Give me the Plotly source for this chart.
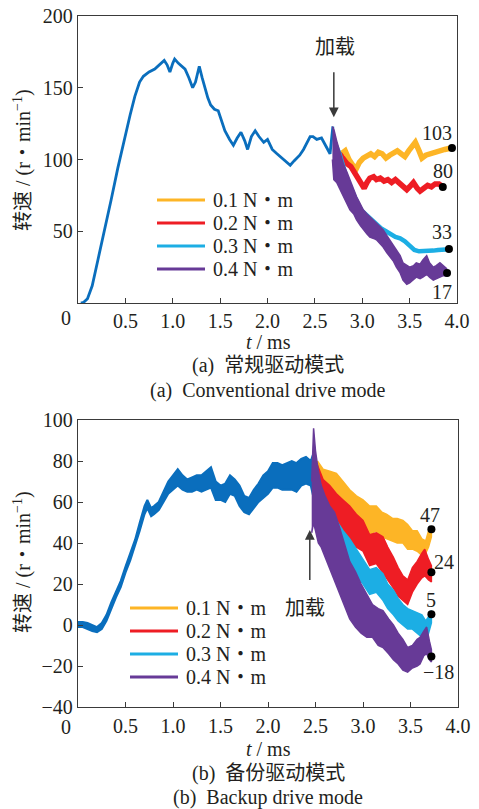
import plotly.graph_objects as go

# ---------------- shared ----------------
series_names = ["0.1 N・m", "0.2 N・m", "0.3 N・m", "0.4 N・m"]
series_colors = ["#FDB526", "#EE1D24", "#1CAEE4", "#673A97"]
base_color = "#0A6EBD"
x_tick_vals = [0, 0.5, 1.0, 1.5, 2.0, 2.5, 3.0, 3.5, 4.0]
x_tick_text = ["0", "0.5", "1.0", "1.5", "2.0", "2.5", "3.0", "3.5", "4.0"]

# ---------------- (a) conventional drive mode ----------------
a_y_ticks = [50, 100, 150, 200]
a_blue_t = [0.03, 0.06, 0.10, 0.15, 0.21, 0.28, 0.35, 0.42, 0.49, 0.55, 0.60, 0.65, 0.69, 0.75,
            0.81, 0.86, 0.91, 0.94, 0.97, 1.00, 1.02, 1.06, 1.10, 1.13, 1.17, 1.21, 1.24, 1.28,
            1.31, 1.34, 1.37, 1.40, 1.44, 1.48, 1.52, 1.55, 1.60, 1.64, 1.68, 1.72, 1.76, 1.79,
            1.83, 1.87, 1.91, 1.96, 2.00, 2.05, 2.10, 2.15, 2.20, 2.24, 2.28, 2.34, 2.38, 2.41,
            2.45, 2.48, 2.52, 2.57, 2.62, 2.66, 2.69]
a_blue_v = [0, 0.5, 3, 12, 30, 50, 72, 94, 115, 131, 144, 154, 158, 161,
            163, 166, 169, 166, 161, 167, 170, 167, 165, 163, 157, 150, 154, 165,
            157, 150, 143, 138, 135, 134, 126, 120, 114, 110, 115, 119, 113, 107,
            116, 120, 116, 112, 114, 107, 104, 101, 98, 96, 99, 103, 107, 111,
            116, 116, 114, 115, 109, 104, 123]

a_s1_t = [2.78, 2.82, 2.86, 2.90, 2.94, 2.97, 3.01, 3.05, 3.09, 3.13, 3.17, 3.21, 3.25, 3.29,
          3.33, 3.37, 3.41, 3.45, 3.49, 3.53, 3.56, 3.60, 3.63, 3.67, 3.71, 3.75, 3.79, 3.83,
          3.87, 3.94]
a_s1_v = [104, 106, 100, 96, 94, 98, 101, 103, 104, 102, 105, 104, 101, 103,
          104, 106, 104, 102, 106, 109, 112, 106, 101, 103, 104, 105, 105, 107,
          107, 108]

a_s2_t = [2.76, 2.80, 2.84, 2.88, 2.92, 2.96, 3.00, 3.02, 3.05, 3.08, 3.12, 3.15, 3.19, 3.23,
          3.27, 3.31, 3.35, 3.39, 3.43, 3.47, 3.50, 3.54, 3.58, 3.61, 3.65, 3.69, 3.73, 3.77,
          3.81, 3.85]
a_s2_v = [104, 100, 97, 95, 91, 86, 82, 80, 84, 87, 88, 86, 87, 85,
          86, 84, 86, 84, 82, 79, 81, 84, 80, 78, 80, 82, 81, 83,
          83, 81]

a_s3_t = [2.72, 2.76, 2.80, 2.84, 2.88, 2.92, 2.96, 3.00, 3.05, 3.10, 3.15, 3.20, 3.25, 3.30,
          3.35, 3.40, 3.45, 3.50, 3.55, 3.60, 3.65, 3.70, 3.75, 3.80, 3.85, 3.92]
a_s3_v = [110, 104, 95, 86, 80, 73, 68, 64, 61, 57, 54, 52, 50, 48,
          46, 45, 43, 40, 37, 36, 36, 36, 36.5, 37, 37, 37.5]

a_s4_t = [2.685, 2.70, 2.73, 2.76, 2.80, 2.84, 2.87, 2.91, 2.94, 2.98, 3.01, 3.05, 3.08, 3.12,
          3.15, 3.19, 3.22, 3.26, 3.29, 3.33, 3.36, 3.40, 3.43, 3.47, 3.50, 3.54, 3.57, 3.61,
          3.64, 3.68, 3.71, 3.75, 3.78, 3.82, 3.85, 3.89]
a_s4_lo = [100, 86, 84, 80, 74, 69, 65, 62, 58, 54, 51, 48, 46, 45,
           44, 41, 39, 35, 32, 29, 25, 21, 16, 13, 14, 16, 18, 17,
           18, 20, 18, 16, 17, 18, 19, 19]
a_s4_hi = [123, 121, 113, 106, 97, 91, 86, 80, 74, 69, 65, 62, 60, 57,
           55, 53, 51, 47, 44, 40, 37, 33, 28, 26, 25, 26, 28, 27,
           30, 33, 28, 25, 26, 28, 26, 24]

a_end_t = [3.947, 3.85, 3.915, 3.895]
a_end_v = [108, 80.8, 37.6, 20.9]
a_end_lbl = ["103", "80", "33", "17"]

# ---------------- (b) backup drive mode ----------------
b_y_ticks = [-40, -20, 0, 20, 40, 60, 80, 100]
b_y_text = ["−40", "−20", "0", "20", "40", "60", "80", "100"]
b_blue_t = [0.00, 0.05, 0.10, 0.15, 0.20, 0.25, 0.30, 0.35, 0.40, 0.45, 0.50, 0.55, 0.60, 0.65,
            0.70, 0.73, 0.77, 0.80, 0.85, 0.90, 0.95, 1.00, 1.05, 1.10, 1.15, 1.20, 1.25, 1.30,
            1.35, 1.40, 1.45, 1.50, 1.55, 1.60, 1.65, 1.70, 1.75, 1.80, 1.85, 1.90, 1.95, 2.00,
            2.05, 2.10, 2.15, 2.20, 2.25, 2.30, 2.35, 2.40, 2.45, 2.48]
b_blue_lo = [-1, -1, -2, -3, -3.5, -2, 2, 8, 13.5, 18.5, 25.5, 31.5, 38.5, 46,
             54, 57, 53, 54, 56, 60, 64, 66, 68, 66, 65, 65, 66, 65,
             66, 67, 61, 61, 60, 64, 63, 58, 55, 54, 57, 60, 62, 64,
             67, 67, 66, 66, 66, 65, 68, 69, 68, 62]
b_blue_hi = [1.5, 1.5, 1, 0, -1, 1, 5, 11, 16.5, 21.5, 28.5, 34.5, 41.5, 50,
             58, 61, 57, 58, 60, 65, 70, 73, 76, 73, 71, 72, 73, 73,
             75, 77, 70, 68, 69, 73, 71, 68, 63, 62, 66, 69, 73, 75,
             79, 79, 78, 79, 80, 79, 81, 82, 80, 84]

b_s1_t = [2.52, 2.58, 2.65, 2.72, 2.79, 2.86, 2.93, 3.00, 3.07, 3.14, 3.20, 3.25, 3.31, 3.36,
          3.42, 3.47, 3.52, 3.57, 3.62, 3.66, 3.69, 3.72]
b_s1_lo = [68, 67, 64, 62, 57, 53, 50, 48, 44, 46, 43, 42, 41, 40,
           40, 37, 37, 36, 34, 35, 38, 43]
b_s1_hi = [80, 76, 75, 74, 70, 66, 63, 61, 58, 58, 55, 54, 52, 52,
           51, 49, 46, 46, 42, 41, 46, 48]

b_s2_t = [2.52, 2.58, 2.65, 2.72, 2.79, 2.86, 2.93, 3.00, 3.07, 3.14, 3.21, 3.26, 3.32, 3.37,
          3.42, 3.47, 3.52, 3.57, 3.62, 3.65, 3.69, 3.72]
b_s2_lo = [62, 58, 55, 51, 46, 41, 38, 36, 29, 30, 25, 22, 18, 14,
           12, 10, 16, 20, 23, 24, 22, 21]
b_s2_hi = [78, 71, 68, 64, 61, 58, 54, 51, 44, 45, 43, 38, 33, 28,
           24, 22, 28, 31, 35, 37, 32, 29]

b_s3_t = [2.52, 2.58, 2.65, 2.72, 2.79, 2.86, 2.93, 3.00, 3.07, 3.14, 3.21, 3.26, 3.32, 3.37,
          3.42, 3.47, 3.52, 3.57, 3.62, 3.66, 3.69, 3.72]
b_s3_lo = [60, 51, 45, 40, 33, 28, 24, 20, 15, 16, 12, 8, 5, 2,
           0, -2, -2, -4, -6, -8, -4, 1]
b_s3_hi = [75, 63, 57, 51, 46, 42, 37, 32, 27, 28, 25, 20, 17, 13,
           10, 8, 7, 6, 5, 2, 4, 7]

b_s4_t = [2.46, 2.48, 2.50, 2.53, 2.56, 2.60, 2.65, 2.70, 2.75, 2.80, 2.86, 2.92, 2.98, 3.04,
          3.10, 3.16, 3.21, 3.27, 3.32, 3.37, 3.42, 3.47, 3.52, 3.57, 3.60, 3.64, 3.67, 3.70,
          3.72]
b_s4_lo = [45, 50, 46, 40, 38, 33, 27, 22, 16, 10, 3, -1, -4, -6,
           -6, -10, -11, -14, -17, -19, -22, -23, -21, -20, -19, -15, -14, -17,
           -18]
b_s4_hi = [70, 96, 85, 75, 68, 63, 58, 55, 48, 40, 31, 26, 20, 15,
           10, 8, 7, 3, 0, -4, -7, -11, -10, -7, -6, -3, -1, -8,
           -12]

b_end_t = [3.72, 3.72, 3.72, 3.72]
b_end_v = [46.7, 25.7, 5.2, -15.4]
b_end_lbl = ["47", "24", "5", "−18"]

# ---------------- figure ----------------
W, H = 479, 809
SERIF = "Liberation Serif, Noto Sans CJK SC"
TXT = "#231F20"
AX = "#3a3a3a"

fig = go.Figure()


def add_line(t, v, color, width, xa, ya, name):
    fig.add_trace(go.Scatter(x=t, y=v, mode="lines", name=name, showlegend=False,
                             line=dict(color=color, width=width), xaxis=xa, yaxis=ya,
                             hoverinfo="skip"))


def add_band(t, lo, hi, color, xa, ya, name, width=1.5):
    xs = list(t) + list(t)[::-1]
    ys = list(hi) + list(lo)[::-1]
    fig.add_trace(go.Scatter(x=xs, y=ys, mode="lines", fill="toself", fillcolor=color,
                             name=name, showlegend=False,
                             line=dict(color=color, width=width), xaxis=xa, yaxis=ya,
                             hoverinfo="skip"))


# (a)
add_line(a_blue_t, a_blue_v, base_color, 2.8, "x", "y", "speed")
add_line(a_s1_t, a_s1_v, series_colors[0], 5.5, "x", "y", series_names[0])
add_line(a_s2_t, a_s2_v, series_colors[1], 5.5, "x", "y", series_names[1])
add_line(a_s3_t, a_s3_v, series_colors[2], 4.5, "x", "y", series_names[2])
add_band(a_s4_t, a_s4_lo, a_s4_hi, series_colors[3], "x", "y", series_names[3])
fig.add_trace(go.Scatter(x=a_end_t, y=a_end_v, mode="markers", showlegend=False,
                         marker=dict(color="black", size=8), xaxis="x", yaxis="y",
                         hoverinfo="skip"))

# (b)
add_band(b_blue_t, b_blue_lo, b_blue_hi, base_color, "x2", "y2", "speed", 2.0)
add_band(b_s1_t, b_s1_lo, b_s1_hi, series_colors[0], "x2", "y2", series_names[0])
add_band(b_s2_t, b_s2_lo, b_s2_hi, series_colors[1], "x2", "y2", series_names[1])
add_band(b_s3_t, b_s3_lo, b_s3_hi, series_colors[2], "x2", "y2", series_names[2])
add_band(b_s4_t, b_s4_lo, b_s4_hi, series_colors[3], "x2", "y2", series_names[3])
fig.add_trace(go.Scatter(x=b_end_t, y=b_end_v, mode="markers", showlegend=False,
                         marker=dict(color="black", size=8), xaxis="x2", yaxis="y2",
                         hoverinfo="skip"))

axis_common = dict(showline=True, mirror=True, linecolor=AX, linewidth=1.3,
                   ticks="inside", ticklen=5, tickwidth=1.2, tickcolor=AX,
                   showgrid=False, zeroline=False, automargin=False,
                   tickfont=dict(family=SERIF, size=20, color=TXT))

fig.update_layout(
    width=W, height=H, margin=dict(l=0, r=0, t=0, b=0),
    paper_bgcolor="white", plot_bgcolor="white", showlegend=False,
    xaxis=dict(domain=[78 / W, 457 / W], range=[0, 4], anchor="y",
               tickvals=x_tick_vals[1:], ticktext=x_tick_text[1:], **axis_common),
    yaxis=dict(domain=[1 - 303 / H, 1 - 16 / H], range=[0, 200], anchor="x",
               tickvals=a_y_ticks, ticktext=[str(v) for v in a_y_ticks], **axis_common),
    xaxis2=dict(domain=[78 / W, 458 / W], range=[0, 4], anchor="y2",
                tickvals=x_tick_vals[1:], ticktext=x_tick_text[1:], ticklabelstandoff=1,
                **axis_common),
    yaxis2=dict(domain=[1 - 707 / H, 1 - 420 / H], range=[-40, 100], anchor="x2",
                tickvals=b_y_ticks, ticktext=b_y_text, **axis_common),
)

ann = []
font20 = dict(family=SERIF, size=20, color=TXT)

# corner "0" x tick label
ann.append(dict(x=x_tick_vals[0], y=0, xref="x", yref="y", text=x_tick_text[0], showarrow=False,
                xanchor="right", yanchor="middle", xshift=-5, yshift=-15, font=font20))
ann.append(dict(x=x_tick_vals[0], y=-40, xref="x2", yref="y2", text=x_tick_text[0], showarrow=False,
                xanchor="right", yanchor="middle", xshift=-5, yshift=-20, font=font20))

# axis titles & captions
ytitle = "转速 / (r・min<sup>−1</sup>)"
ann.append(dict(x=22 / W, y=1 - 160 / H, xref="paper", yref="paper", text=ytitle, textangle=-90,
                xanchor="center", yanchor="middle", showarrow=False, font=font20))
ann.append(dict(x=22 / W, y=1 - 562 / H, xref="paper", yref="paper", text=ytitle, textangle=-90,
                xanchor="center", yanchor="middle", showarrow=False, font=font20))
for ytxt, txt in [(342, "<i>t</i> / ms"), (365, "(a)  常规驱动模式"), (390, "(a)  Conventional drive mode"),
                  (749, "<i>t</i> / ms"), (773, "(b)  备份驱动模式"), (797, "(b)  Backup drive mode")]:
    ann.append(dict(x=268 / W, y=1 - ytxt / H, xref="paper", yref="paper", text=txt,
                    xanchor="center", showarrow=False, font=font20, yanchor="middle"))

# loading arrows
ann.append(dict(x=2.70, y=129.5, xref="x", yref="y", ax=0, ay=-55, text=" ", showarrow=True,
                arrowhead=2, arrowsize=1.3, arrowwidth=1.5, arrowcolor=AX))
ann.append(dict(x=2.71, y=178.4, xref="x", yref="y", text="加载", showarrow=False, font=font20))
ann.append(dict(x=2.44, y=46.3, xref="x2", yref="y2", ax=0, ay=60, text=" ", showarrow=True,
                arrowhead=2, arrowsize=1.3, arrowwidth=1.5, arrowcolor=AX))
ann.append(dict(x=2.39, y=8.3, xref="x2", yref="y2", text="加载", showarrow=False, font=font20))

# end value labels
a_off = [(-15, 15), (0, 16), (-7, 17), (-5, -19)]
b_off = [(-1, 14), (13, 10), (0, 14), (7, -15)]
for t, v, s, (dx, dy) in zip(a_end_t, a_end_v, a_end_lbl, a_off):
    ann.append(dict(x=t, y=v, xref="x", yref="y", text=s, showarrow=False, font=font20,
                    xshift=dx, yshift=dy))
for t, v, s, (dx, dy) in zip(b_end_t, b_end_v, b_end_lbl, b_off):
    ann.append(dict(x=t, y=v, xref="x2", yref="y2", text=s, showarrow=False, font=font20,
                    xshift=dx, yshift=dy))

# legends (drawn)
shapes = []
for rows, lx0, lx1 in [([200, 223, 246, 269], 157, 205), ([608, 631, 654, 677], 130, 178)]:
    for i, ry in enumerate(rows):
        shapes.append(dict(type="line", xref="paper", yref="paper", x0=lx0 / W, x1=lx1 / W,
                           y0=1 - ry / H, y1=1 - ry / H,
                           line=dict(color=series_colors[i], width=3)))
        ann.append(dict(x=(lx1 + 6) / W, y=1 - ry / H, xref="paper", yref="paper",
                        text=series_names[i], showarrow=False, xanchor="left", yanchor="middle",
                        font=font20))

fig.update_layout(annotations=ann, shapes=shapes)
fig.write_html("out.html", config={"displayModeBar": False},
               post_script="document.body.style.margin='0';document.body.style.overflow='hidden';")
